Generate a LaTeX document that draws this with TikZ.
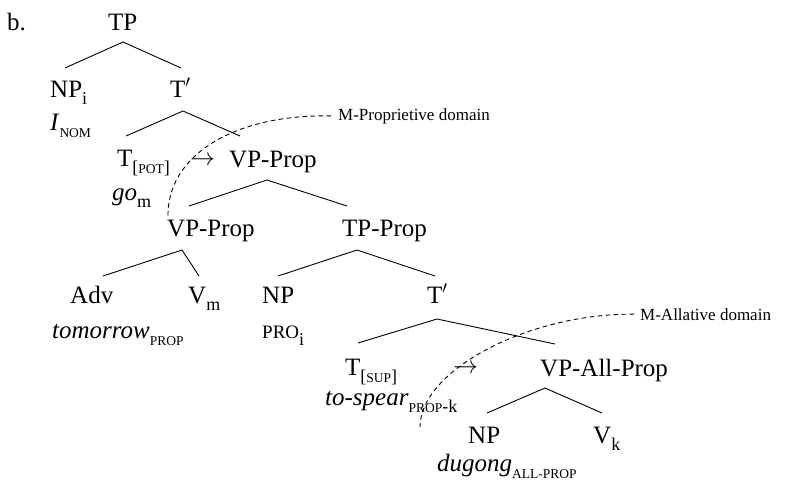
\documentclass[tikz,border=0pt]{standalone}
\usepackage{fontspec}
\setmainfont{Liberation Serif}
% lowered subscript for tree labels
\newcommand{\lsb}[1]{\raisebox{-7pt}{\fontsize{18}{18}\selectfont #1}}
% small capitals drawn as reduced capitals
\newcommand{\subsc}[1]{{\fontsize{13.5}{13.5}\selectfont\MakeUppercase{#1}}}
\newcommand{\mainsc}[1]{{\fontsize{19}{19}\selectfont\MakeUppercase{#1}}}
\begin{document}
\begin{tikzpicture}[x=1pt,y=-1pt,
  lbl/.style={inner sep=0pt, anchor=base west, font=\fontsize{25}{28}\selectfont},
  note/.style={inner sep=0pt, anchor=base west, font=\fontsize{17}{20}\selectfont},
  branch/.style={line width=0.9pt},
  domainline/.style={dash pattern=on 4.5pt off 3.5pt, line width=0.9pt}]
\useasboundingbox (0,0) rectangle (789,491);

% labels
\node[lbl] (b) at (7,30) {b.};
\node[lbl] (tp) at (108,30) {TP};
\node[lbl] (npi) at (50,97) {NP\lsb{i}};
\node[lbl] (tbar1) at (170,97) {T$'$};
\node[lbl] (inom) at (50,130) {\textit{I}\lsb{\subsc{nom}}};
\node[lbl] (tpot) at (117,166) {T\lsb{[\subsc{pot}]}};
\node[lbl] (arr1) at (190,165) {$\rightarrow$};
\node[lbl] (vpprop1) at (229,167) {VP-Prop};
\node[lbl] (gom) at (112,200) {\textit{go}\lsb{m}};
\node[lbl] (vpprop2) at (167,236) {VP-Prop};
\node[lbl] (tpprop) at (342,236) {TP-Prop};
\node[lbl] (adv) at (70,303) {Adv};
\node[lbl] (vm) at (188,303) {V\lsb{m}};
\node[lbl] (np1) at (262,303) {NP};
\node[lbl] (tbar2) at (427,303) {T$'$};
\node[lbl] (tomorrow) at (52,338) {\textit{tomorrow}\lsb{\subsc{prop}}};
\node[lbl] (pro) at (262,338) {\mainsc{pro}\lsb{i}};
\node[lbl] (tsup) at (345,375) {T\lsb{[\subsc{sup}]}};
\node[lbl] (arr2) at (453,373) {$\rightarrow$};
\node[lbl] (vpallprop) at (540,376) {VP-All-Prop};
\node[lbl] (tospear) at (325,405) {\textit{to-spear}\lsb{\subsc{prop}-k}};
\node[lbl] (np2) at (468,443) {NP};
\node[lbl] (vk) at (593,443) {V\lsb{k}};
\node[lbl] (dugong) at (437,471) {\textit{dugong}\lsb{\subsc{all-prop}}};
\node[note] (propdom) at (338,120) {M-Proprietive domain};
\node[note] (alldom) at (640,320) {M-Allative domain};

% branch points
\coordinate (tp-top) at (123,42);   \coordinate (tp-l) at (65,68);   \coordinate (tp-r) at (181,68);
\coordinate (tb1-top) at (183,111); \coordinate (tb1-l) at (126,136); \coordinate (tb1-r) at (240,136);
\coordinate (vp1-top) at (267,180); \coordinate (vp1-l) at (189,206); \coordinate (vp1-r) at (347,206);
\coordinate (vp2-top) at (182,250); \coordinate (vp2-l) at (103,276); \coordinate (vp2-r) at (199,276);
\coordinate (tpp-top) at (357,250); \coordinate (tpp-l) at (278,276); \coordinate (tpp-r) at (435,276);
\coordinate (tb2-top) at (437,319); \coordinate (tb2-l) at (358,343); \coordinate (tb2-r) at (555,344);
\coordinate (vpa-top) at (545,388); \coordinate (vpa-l) at (487,413); \coordinate (vpa-r) at (602,413);

\foreach \n in {tp,tb1,vp1,vp2,tpp,tb2,vpa}
  \draw[branch] (\n-l) -- (\n-top) -- (\n-r);

% morphological domains
\coordinate (propend) at (168,218);
\coordinate (allend) at (420,427);
\draw[domainline] ([xshift=-7pt]propdom.west) .. controls (235,114) and (166,155) .. (propend);
\draw[domainline] ([xshift=-6pt]alldom.west) .. controls (530,313) and (420,370) .. (allend);
\end{tikzpicture}
\end{document}
